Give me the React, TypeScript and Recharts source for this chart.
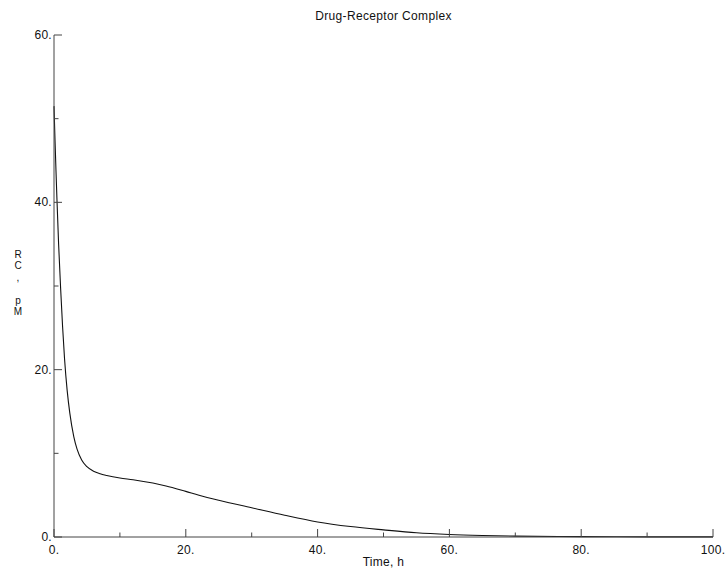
import React from "react";
import { LineChart, Line, XAxis, YAxis, Label } from "recharts";

const timeH = [0, 0.15, 0.3, 0.45, 0.7, 1.0, 1.3, 1.6, 2.0, 2.4, 3.0, 3.5, 4.2, 5, 6, 7, 8, 10, 12, 15, 17, 20, 22, 25, 30, 35, 40, 45, 50, 55, 60, 65, 70, 80, 90, 100];
const rcPM = [51.5, 47.5, 43.8, 40.3, 35, 29.8, 25.2, 21.3, 17.5, 14.8, 12, 10.5, 9.2, 8.4, 7.85, 7.55, 7.35, 7.05, 6.85, 6.45, 6.1, 5.45, 5.0, 4.4, 3.5, 2.6, 1.8, 1.25, 0.85, 0.5, 0.3, 0.18, 0.1, 0.04, 0.02, 0.01];
const xTicks = [0, 10, 20, 30, 40, 50, 60, 70, 80, 90, 100];
const yTicks = [0, 10, 20, 30, 40, 50, 60];
const yLabelChars = ["R", "C", ",", " ", "p", "M"];
const title = "Drug-Receptor Complex";
const xLabel = "Time, h";

const data = timeH.map((t, i) => ({ t, v: rcPM[i] }));

const FONT = "'Liberation Sans', Arial, sans-serif";
const AXIS = "#444";

const XTick = (props: any) => {
  const { x, y, payload } = props;
  const major = payload.value % 20 === 0;
  const len = major ? 8 : 4.5;
  return (
    <g>
      <line x1={x} y1={y} x2={x} y2={y - len} stroke={AXIS} strokeWidth={1} />
      {major && (
        <text x={x} y={y + 17} textAnchor="middle" fontSize={12} fontFamily={FONT} fill="#111" letterSpacing={0.3}>
          {`${payload.value}.`}
        </text>
      )}
    </g>
  );
};

const YTick = (props: any) => {
  const { x, y, payload } = props;
  const major = payload.value % 20 === 0;
  const len = major ? 8 : 4.5;
  return (
    <g>
      <line x1={x} y1={y} x2={x + len} y2={y} stroke={AXIS} strokeWidth={1} />
      {major && (
        <text x={x - 2} y={y + 4} textAnchor="end" fontSize={12} fontFamily={FONT} fill="#111" letterSpacing={0.3}>
          {`${payload.value}.`}
        </text>
      )}
    </g>
  );
};

export default function App() {
  return (
    <div style={{ position: "absolute", left: 0, top: 0, width: 727, height: 573, background: "#fff" }}>
      <LineChart width={727} height={573} data={data} margin={{ top: 35, right: 14, bottom: 6, left: 0 }}>
        <XAxis
          dataKey="t"
          type="number"
          domain={[0, 100]}
          ticks={xTicks}
          tick={<XTick />}
          tickLine={false}
          tickSize={0}
          tickMargin={0}
          height={30}
          axisLine={{ stroke: AXIS, strokeWidth: 1 }}
          interval={0}
        >
          <Label
            content={(p: any) => {
              const vb = p.viewBox;
              return (
                <text x={vb.x + vb.width / 2} y={vb.y + 29} textAnchor="middle" fontSize={12} fontFamily={FONT} fill="#111" letterSpacing={0.3}>
                  {xLabel}
                </text>
              );
            }}
          />
        </XAxis>
        <YAxis
          type="number"
          domain={[0, 60]}
          ticks={yTicks}
          tick={<YTick />}
          tickLine={false}
          tickSize={0}
          tickMargin={0}
          width={54}
          axisLine={{ stroke: AXIS, strokeWidth: 1 }}
          interval={0}
        >
          <Label
            content={(p: any) => {
              const vb = p.viewBox;
              return (
                <g>
                  {yLabelChars.map((c, i) => (
                    <text key={i} x={vb.x + 18} y={258 + i * 11.4} textAnchor="middle" fontSize={10} fontFamily={FONT} fill="#111">
                      {c}
                    </text>
                  ))}
                  <text x={383.5} y={20} textAnchor="middle" fontSize={12} fontFamily={FONT} fill="#111" letterSpacing={0.35}>
                    {title}
                  </text>
                </g>
              );
            }}
          />
        </YAxis>
        <Line type="monotone" dataKey="v" stroke="#111" strokeWidth={1.1} dot={false} isAnimationActive={false} />
      </LineChart>
    </div>
  );
}
